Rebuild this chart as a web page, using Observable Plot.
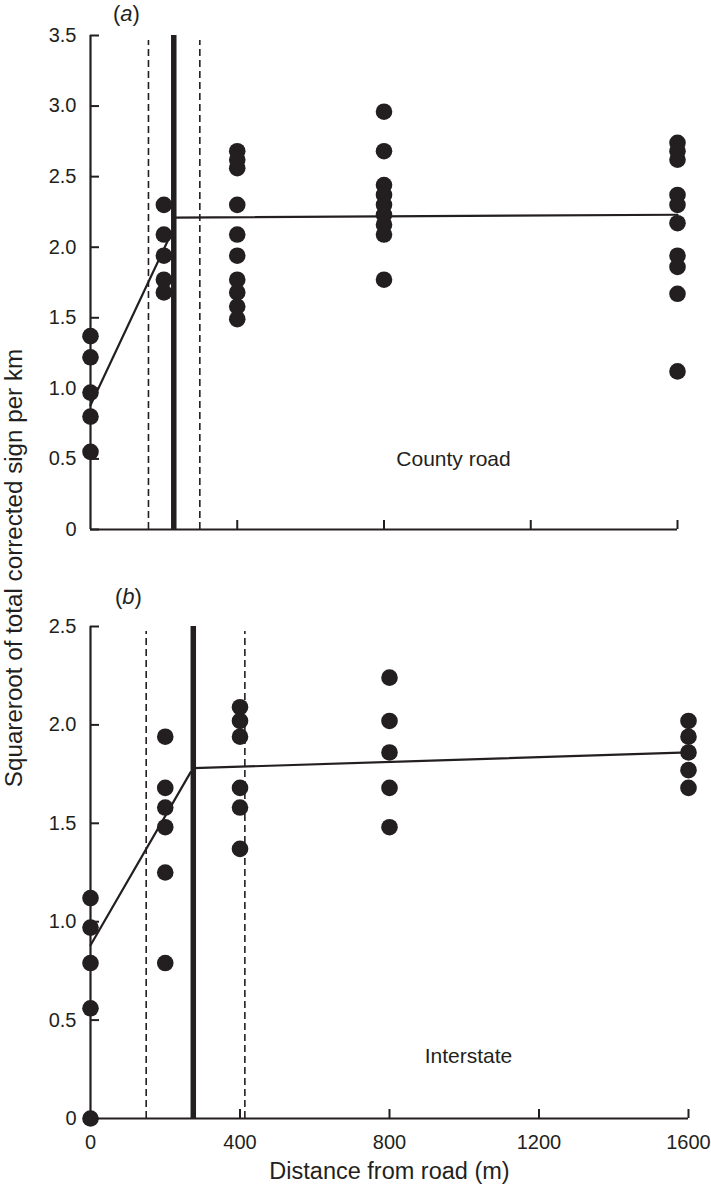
<!DOCTYPE html>
<html>
<head>
<meta charset="utf-8">
<script src="https://cdn.jsdelivr.net/npm/d3@7"></script>
<script src="https://cdn.jsdelivr.net/npm/@observablehq/plot@0.6"></script>
<style>
  html, body { margin: 0; padding: 0; background: #fff; }
  #wrap { position: relative; width: 711px; height: 1193px; font-family: "Liberation Sans", Arial, sans-serif; color: #231f20; }
  #wrap svg { position: absolute; left: 0; overflow: visible; }
  .panel-tag { position: absolute; font-size: 22px; line-height: 1; }
  #ytitle { position: absolute; left: 14px; top: 568px; font-size: 24.2px; white-space: nowrap;
            transform: translate(-50%, -50%) rotate(-90deg); }
</style>
</head>
<body>
<div id="wrap">
  <div class="panel-tag" style="left:113px; top:3px;">(<i>a</i>)</div>
  <div class="panel-tag" style="left:115px; top:586px;">(<i>b</i>)</div>
  <div id="ytitle">Squareroot of total corrected sign per km</div>
</div>
<script>
// ---- Data ----
const distances = [0, 200, 400, 800, 1600];
const xTicks = [0, 400, 800, 1200, 1600];
const yTicksA = [0, 0.5, 1.0, 1.5, 2.0, 2.5, 3.0, 3.5];
const yTicksB = [0, 0.5, 1.0, 1.5, 2.0, 2.5];

// (a) County road
const county0    = [1.37, 1.22, 0.97, 0.80, 0.55];
const county200  = [2.30, 2.09, 1.94, 1.77, 1.68];
const county400  = [2.68, 2.62, 2.56, 2.30, 2.09, 1.94, 1.77, 1.68, 1.58, 1.49];
const county800  = [2.96, 2.68, 2.44, 2.37, 2.30, 2.23, 2.16, 2.09, 1.77];
const county1600 = [2.74, 2.68, 2.62, 2.37, 2.30, 2.17, 1.94, 1.86, 1.67, 1.12];
const countyRise = [[0, 0.88], [215, 2.07]];
const countyFlat = [[227, 2.21], [1600, 2.23]];
const countyBreak = 227;
const countyCI = [158, 298];

// (b) Interstate
const inter0    = [1.12, 0.97, 0.79, 0.56, 0];
const inter200  = [1.94, 1.68, 1.58, 1.48, 1.25, 0.79];
const inter400  = [2.09, 2.02, 1.94, 1.68, 1.58, 1.37];
const inter800  = [2.24, 2.02, 1.86, 1.68, 1.48];
const inter1600 = [2.02, 1.94, 1.86, 1.77, 1.68];
const interRise = [[0, 0.88], [268, 1.76]];
const interFlat = [[275, 1.78], [1600, 1.86]];
const interBreak = 275;
const interCI = [149, 413];

function toPoints(groups) {
  const out = [];
  groups.forEach((vals, i) => vals.forEach(v => out.push({x: distances[i], y: v})));
  return out;
}
const countyPts = toPoints([county0, county200, county400, county800, county1600]);
const interPts  = toPoints([inter0, inter200, inter400, inter800, inter1600]);

const ink = "#231f20";
const font = "Liberation Sans, Arial, sans-serif";

function panel({pts, rise, flat, brk, ci, yMax, yTicks, height, mt, mb, mr, labelText, labelDx, labelDy, showX}) {
  const W = 711, ml = 90;
  const fw = W - ml - mr, fh = height - mt - mb;
  const marks = [
    Plot.ruleY([0], {stroke: ink, strokeWidth: 2.2}),
    Plot.ruleX([0], {stroke: ink, strokeWidth: 2.2}),
    Plot.tickY(yTicks, {y: d => d, stroke: ink, strokeWidth: 2, insetRight: fw - 9}),
    Plot.tickX(xTicks.filter(d => d > 0), {x: d => d, stroke: ink, strokeWidth: 2, insetTop: fh - 9}),
    Plot.axisY({ticks: yTicks, tickSize: 0, tickPadding: 14, tickFormat: d => d === 0 ? "0" : d.toFixed(1), fontSize: 20, label: null}),
    Plot.ruleX(ci, {x: d => d, y1: 0, y2: yMax * 0.99, stroke: ink, strokeWidth: 1.6, strokeDasharray: "7,4"}),
    Plot.ruleX([brk], {x: d => d, y1: 0, y2: yMax, stroke: ink, strokeWidth: 5.5}),
    Plot.line(rise, {x: d => d[0], y: d => d[1], stroke: ink, strokeWidth: 2.2}),
    Plot.line(flat, {x: d => d[0], y: d => d[1], stroke: ink, strokeWidth: 2.2}),
    Plot.dot(pts, {x: "x", y: "y", r: 8.3, fill: ink, stroke: null}),
    Plot.text([labelText], {text: d => d, frameAnchor: "bottom-left", dx: labelDx, dy: labelDy, fontSize: 21, fill: ink, textAnchor: "middle"})
  ];
  if (showX) {
    marks.push(Plot.axisX({ticks: xTicks, tickSize: 0, tickPadding: 16, tickFormat: d => String(d), fontSize: 20, label: null}));
    marks.push(Plot.text(["Distance from road (m)"], {text: d => d, frameAnchor: "bottom", dy: 60, fontSize: 23.5, fill: ink}));
  }
  return Plot.plot({
    width: W, height,
    marginLeft: ml, marginRight: mr, marginTop: mt, marginBottom: mb,
    style: {fontFamily: font, color: ink, background: "transparent", overflow: "visible"},
    x: {domain: [0, 1600], axis: null},
    y: {domain: [0, yMax], axis: null},
    marks
  });
}

const wrap = document.getElementById("wrap");
const a = panel({pts: countyPts, rise: countyRise, flat: countyFlat, brk: countyBreak, ci: countyCI,
  yMax: 3.5, yTicks: yTicksA, height: 545, mt: 35, mb: 16, mr: 34,
  labelText: "County road", labelDx: 363, labelDy: -64, showX: false});
a.style.top = "0px";
wrap.appendChild(a);

const b = panel({pts: interPts, rise: interRise, flat: interFlat, brk: interBreak, ci: interCI,
  yMax: 2.5, yTicks: yTicksB, height: 648, mt: 81, mb: 75, mr: 23,
  labelText: "Interstate", labelDx: 378, labelDy: -56, showX: true});
b.style.top = "545px";
wrap.appendChild(b);
</script>
</body>
</html>
